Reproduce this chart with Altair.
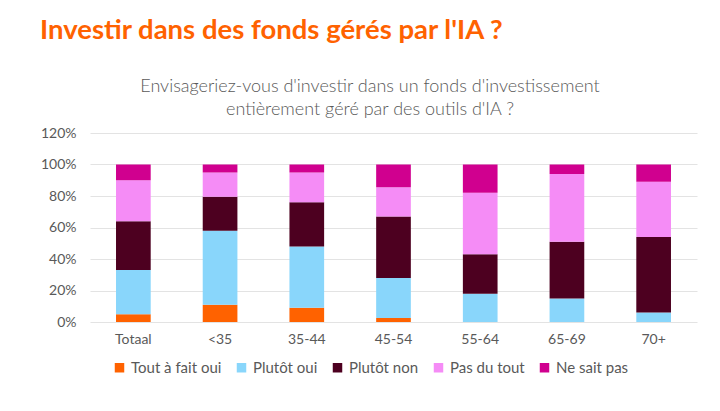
import altair as alt
import pandas as pd

categories = ["Totaal", "<35", "35-44", "45-54", "55-64", "65-69", "70+"]
series_names = ["Tout à fait oui", "Plutôt oui", "Plutôt non", "Pas du tout", "Ne sait pas"]
tout_a_fait_oui = [5, 11, 9, 2.5, 0, 0, 0]
plutot_oui = [28, 47, 39, 25.5, 18, 15, 6]
plutot_non = [31, 21.5, 28, 39, 25, 36, 48]
pas_du_tout = [26, 15.5, 19, 18.5, 39, 43, 35]
ne_sait_pas = [10, 5, 5, 14.5, 18, 6, 11]
colors = ["#FF6200", "#89D6FB", "#4D0020", "#F58CF6", "#D0008F"]
y_ticks = [0, 20, 40, 60, 80, 100, 120]

title_text = "Investir dans des fonds gérés par l'IA ?"
subtitle_text = "Envisageriez-vous d'investir dans un fonds d'investissement\nentièrement géré par des outils d'IA ?"

series = [tout_a_fait_oui, plutot_oui, plutot_non, pas_du_tout, ne_sait_pas]
rows = []
for si, (name, vals) in enumerate(zip(series_names, series)):
    for c, v in zip(categories, vals):
        rows.append({"cat": c, "serie": name, "value": v, "idx": si})
df = pd.DataFrame(rows)

label_color = "#595959"
font = "Lato"

bars = alt.Chart(df).mark_bar().encode(
    x=alt.X("cat:N", sort=categories, title=None,
            scale=alt.Scale(paddingInner=0.6, paddingOuter=0.3),
            axis=alt.Axis(labelAngle=0, domain=False, ticks=False, labelPadding=10,
                          labelFontSize=14, labelColor=label_color, labelFont=font)),
    y=alt.Y("value:Q", stack="zero", title=None,
            scale=alt.Scale(domain=[0, 120], nice=False),
            axis=alt.Axis(values=y_ticks, labelExpr="datum.value + '%'", domain=False,
                          ticks=False, labelPadding=14, labelFontSize=14,
                          labelColor=label_color, labelFont=font,
                          gridColor="#e3e3e3", gridWidth=1)),
    color=alt.Color("serie:N", sort=series_names,
                    scale=alt.Scale(domain=series_names, range=colors),
                    legend=alt.Legend(title=None, orient="none", direction="horizontal",
                                      legendX=22, legendY=227, symbolType="square",
                                      symbolSize=90, symbolStrokeWidth=0,
                                      labelFontSize=15, labelColor=label_color,
                                      labelFont=font, columnPadding=12, padding=0)),
    order=alt.Order("idx:Q", sort="ascending"),
)

title = alt.Chart(pd.DataFrame({"t": [title_text]})).mark_text(
    align="left", baseline="alphabetic", font=font, fontWeight="bold",
    fontSize=27.5, color="#FF6200"
).encode(text="t:N", x=alt.value(-50), y=alt.value(-94))

subtitle = alt.Chart(pd.DataFrame({"t": [subtitle_text]})).mark_text(
    align="center", baseline="alphabetic", font=font, fontSize=18, fontWeight=300,
    color=label_color, lineBreak="\n", lineHeight=23
).encode(text="t:N", x=alt.value(280), y=alt.value(-41))

chart = alt.layer(bars, title, subtitle).properties(
    width=607, height=189,
    autosize=alt.AutoSizeParams(type="none"),
    padding={"left": 82, "top": 125, "right": 15, "bottom": 70},
).configure_view(stroke=None)

chart.save("out.html", embed_options={"renderer": "svg", "actions": False})
